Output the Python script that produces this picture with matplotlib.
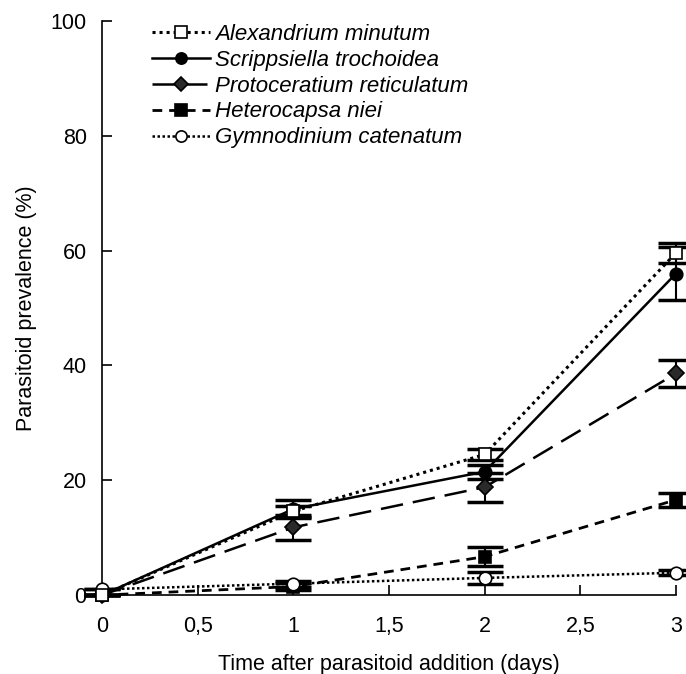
import numpy as np
import matplotlib.pyplot as plt

plt.rcParams['font.family'] = ['Liberation Sans', 'DejaVu Sans']

# Data
days = [0, 1, 2, 3]
species = ["Alexandrium minutum", "Scrippsiella trochoidea",
           "Protoceratium reticulatum", "Heterocapsa niei",
           "Gymnodinium catenatum"]
alexandrium = [0, 14.6, 24.5, 59.6]
alexandrium_err = [0, 1.0, 1.0, 1.8]
scrippsiella = [0, 15.0, 21.5, 56.0]
scrippsiella_err = [0, 1.5, 1.2, 4.6]
protoceratium = [0, 11.8, 18.8, 38.6]
protoceratium_err = [0, 2.2, 2.5, 2.4]
heterocapsa = [0, 1.5, 6.7, 16.6]
heterocapsa_err = [0, 0.6, 1.7, 1.2]
gymnodinium = [1.0, 2.0, 3.0, 3.9]
gymnodinium_err = [0, 0.5, 1.0, 0.4]

xtick_pos = [0, 0.5, 1, 1.5, 2, 2.5, 3]
xtick_labels = ["0", "0,5", "1", "1,5", "2", "2,5", "3"]
ytick_pos = [0, 20, 40, 60, 80, 100]

fig = plt.figure(figsize=(6.86, 6.74), dpi=100)
ax = fig.add_axes([0.1487, 0.117, 0.8367, 0.852])

# marker, face colour, line style, line width, z-order
styles = [
    ('s', 'white', (0, (1, 1.3)), 2.2, 5),
    ('o', 'black', '-', 1.8, 3),
    ('D', '#2a2a2a', (0, (9, 4)), 1.8, 3),
    ('s', 'black', (0, (3.5, 2.5)), 2.0, 3),
    ('o', 'white', (0, (1, 1)), 1.8, 4),
]
series = [alexandrium, scrippsiella, protoceratium, heterocapsa, gymnodinium]
errors = [alexandrium_err, scrippsiella_err, protoceratium_err,
          heterocapsa_err, gymnodinium_err]

for vals, err, (mk, fc, ls, lw, z), name in zip(series, errors, styles, species):
    ax.errorbar(days, vals, yerr=err, fmt='none', ecolor='black',
                elinewidth=1.5, capsize=13, capthick=2.5, clip_on=False,
                zorder=2)
    ax.plot(days, vals, linestyle=ls, color='black', linewidth=lw,
            marker=mk, markersize=8 if mk == 'D' else 9,
            markerfacecolor=fc, markeredgecolor='black',
            markeredgewidth=1.2, clip_on=False, label=name, zorder=z)

ax.set_xlim(0, 3)
ax.set_ylim(0, 100)
ax.set_xticks(xtick_pos)
ax.set_xticklabels(xtick_labels)
ax.set_yticks(ytick_pos)
ax.tick_params(direction='in', length=7, width=1.2, labelsize=15.5)
ax.tick_params(axis='x', pad=15)
ax.tick_params(axis='y', pad=11)
for side in ['top', 'right']:
    ax.spines[side].set_visible(False)
for side in ['left', 'bottom']:
    ax.spines[side].set_linewidth(1.2)

ax.set_xlabel("Time after parasitoid addition (days)", fontsize=15.5, labelpad=12)
ax.set_ylabel("Parasitoid prevalence (%)", fontsize=15.5, labelpad=9.5)

leg = ax.legend(loc='upper left', bbox_to_anchor=(0.087, 0.995), frameon=False,
                prop={'style': 'italic', 'size': 16}, handlelength=2.6,
                handletextpad=0.25, labelspacing=0.22, borderaxespad=0,
                borderpad=0, markerscale=0.9)

fig.savefig("out.png", dpi=100)
